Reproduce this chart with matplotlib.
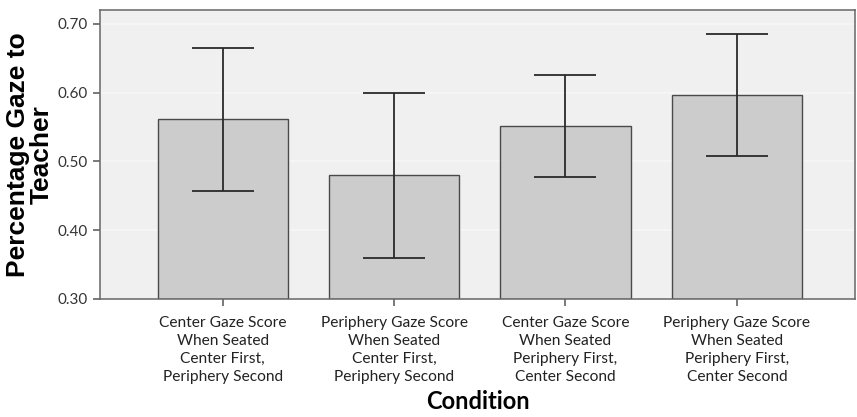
import matplotlib.pyplot as plt
import numpy as np

# condition labels and group means with 95% CI bounds
conditions = [
    "Center Gaze Score\nWhen Seated\nCenter First,\nPeriphery Second",
    "Periphery Gaze Score\nWhen Seated\nCenter First,\nPeriphery Second",
    "Center Gaze Score\nWhen Seated\nPeriphery First,\nCenter Second",
    "Periphery Gaze Score\nWhen Seated\nPeriphery First,\nCenter Second",
]
means = [0.562, 0.480, 0.551, 0.597]
ci_low = [0.457, 0.360, 0.477, 0.508]
ci_high = [0.665, 0.599, 0.625, 0.685]
yticks = [0.30, 0.40, 0.50, 0.60, 0.70]

fig = plt.figure(figsize=(8.57, 4.17), dpi=100)
ax = fig.add_axes([0.1167, 0.283, 0.881, 0.693])
ax.set_facecolor('#f0f0f0')

x = np.arange(len(conditions))
means = np.array(means)
yerr = [means - np.array(ci_low), np.array(ci_high) - means]

# faint horizontal guides
for t in yticks[1:]:
    ax.axhline(t, color='#f7f7f7', lw=1.2, zorder=1)

ax.bar(x, means - 0.30, bottom=0.30, width=0.76, color='#cccccc',
       edgecolor='#4a4a4a', linewidth=1.0, zorder=2)
ax.errorbar(x, means, yerr=yerr, fmt='none', ecolor='#2a2a2a',
            elinewidth=1.3, capsize=22, capthick=1.3, zorder=3)

ax.set_xlim(-0.717, 3.69)
ax.set_ylim(0.30, 0.72)
ax.set_yticks(yticks)
ax.set_yticklabels(['%.2f' % t for t in yticks], fontsize=11,
                   family='Lato', color='#333333')
ax.set_xticks(x)
ax.set_xticklabels(conditions, fontsize=11.2, family='Lato', color='#222222',
                   linespacing=1.38)
ax.tick_params(axis='both', direction='out', length=5, width=1.1,
               color='#555555')
ax.tick_params(axis='x', pad=7)
for s in ax.spines.values():
    s.set_color('#666666')
    s.set_linewidth(1.1)

ax.set_ylabel('Percentage Gaze to\nTeacher', fontsize=19,
              family='Liberation Sans', fontweight='bold', linespacing=1.0,
              labelpad=3)
ax.set_xlabel('Condition', fontsize=17, family='Lato', fontweight='bold',
              labelpad=4)

fig.savefig('out.png', dpi=100)
